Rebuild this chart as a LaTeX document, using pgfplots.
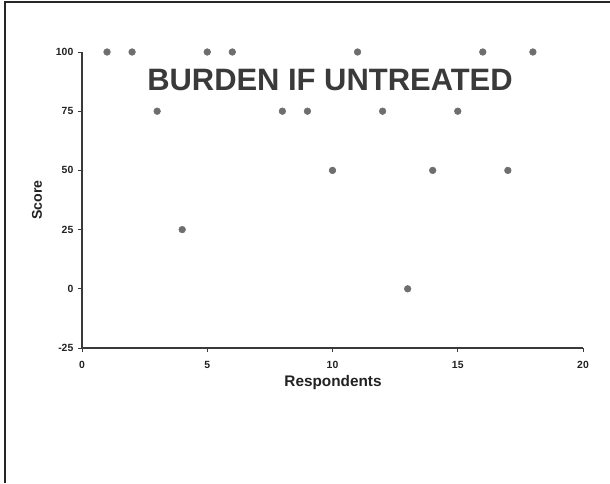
\documentclass[border=0pt]{standalone}
\usepackage{pgfplots}
\pgfplotsset{compat=1.18}
\usepackage{fontspec}
\setmainfont{Liberation Sans}
\definecolor{markc}{HTML}{6E6E6E}
\definecolor{axc}{HTML}{3A3A3A}
\definecolor{txt}{HTML}{222222}
\begin{document}
\begin{tikzpicture}
\path[use as bounding box] (0,0) rectangle (457.5pt,362.25pt);
\fill[white] (0,0) rectangle (457.5pt,362.25pt);
\draw[line width=1.6pt, color=black!85] (3.9pt,0) -- (3.9pt,360.5pt) -- (457.5pt,360.5pt);
\begin{axis}[
  at={(61.5pt,101.25pt)}, anchor=south west,
  width=375.75pt, height=222pt, scale only axis,
  xmin=0, xmax=20, ymin=-25, ymax=100,
  xtick={0,5,10,15,20}, ytick={-25,0,25,50,75,100},
  axis lines=left,
  axis line style={-, line width=0.8pt, color=axc},
  tick align=outside, major tick length=3pt,
  tick style={line width=0.6pt, color=axc},
  /pgf/number format/assume math mode=true,
  ticklabel style={font=\bfseries\fontsize{7.8}{9}\selectfont, color=txt},
  xticklabel style={yshift=-3.5pt},
  xlabel={Respondents}, ylabel={Score},
  xlabel style={font=\bfseries\fontsize{11.5}{13}\selectfont, color=txt, at={(axis description cs:0.501,-0.115)}, anchor=center},
  ylabel style={font=\bfseries\fontsize{10.6}{12}\selectfont, color=txt, at={(axis description cs:-0.09,0.5)}, anchor=center, rotate=0},
  clip=false,
]
\addplot[only marks, mark=*, mark size=2.5pt, color=markc, mark options={draw=markc, fill=markc}] coordinates {
(1,100) (2,100) (3,75) (4,25) (5,100) (6,100) (8,75) (9,75) (10,50) (11,100) (12,75) (13,0) (14,50) (15,75) (16,100) (17,50) (18,100)
};
\node[font=\bfseries\fontsize{23.2}{26}\selectfont, color=axc] at (axis cs:9.9,88.0) {BURDEN IF UNTREATED};
\end{axis}
\end{tikzpicture}
\end{document}
